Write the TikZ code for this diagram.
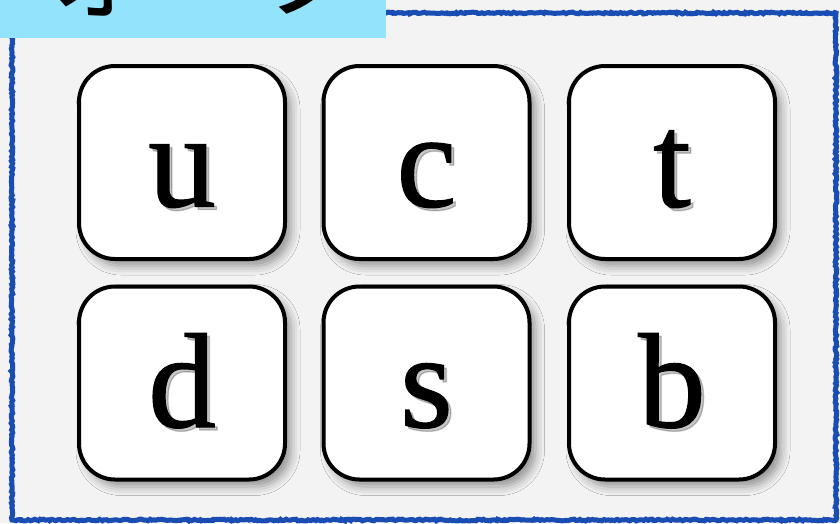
\documentclass[tikz,border=0pt]{standalone}
\usepackage{fontspec}
\setmainfont[FakeBold=1]{Liberation Serif}
\newfontfamily\jpfont{Noto Sans CJK JP}
\usetikzlibrary{shadows.blur,decorations.pathmorphing}
\definecolor{bg}{HTML}{F3F3F3}
\definecolor{frameblue}{HTML}{1A4DB3}
\definecolor{titleblue}{HTML}{94E3FD}
\tikzset{
  quark/.style={draw=black, line width=4pt, fill=white, rounded corners=36pt,
    minimum width=206pt, minimum height=193pt, inner sep=0pt,
    blur shadow={shadow xshift=6pt, shadow yshift=-7pt, shadow blur radius=9pt, shadow opacity=40}},
  qlabel/.style={font=\fontsize{135}{135}\selectfont, anchor=base, inner sep=0pt, text=black},
  qshadow/.style={qlabel, text=black, opacity=0.22},
  roughline/.style={frameblue, line width=5pt, decorate,
    decoration={random steps, segment length=2pt, amplitude=0.9pt}},
}
\begin{document}
\begin{tikzpicture}[x=1pt,y=-1pt]
\useasboundingbox (0,0) rectangle (840,523);
\fill[bg] (0,0) rectangle (840,523);
\draw[roughline] (12,13) rectangle (836,520);
\draw[roughline, line width=2pt, opacity=0.6] (12.5,12.5) rectangle (835.5,520.5);
\fill[titleblue] (0,0) rectangle (386,38);
\node[anchor=base west, font=\jpfont\fontsize{108}{108}\selectfont, inner sep=0pt] (title) at (-67,9) {クォーク};
\foreach \n/\x/\y/\t in {u/182/162.5/u, c/426.5/162.5/c, t/672/162.5/t, d/182/383/d, s/426.5/383/s, b/672/383/b}{
  \node[quark] (box\n) at (\x,\y) {};
  \node[qshadow] (sh\n) at (\x+3,\y+47) {\t};
  \node[qlabel] (lab\n) at (\x,\y+44) {\t};
}
\end{tikzpicture}
\end{document}
